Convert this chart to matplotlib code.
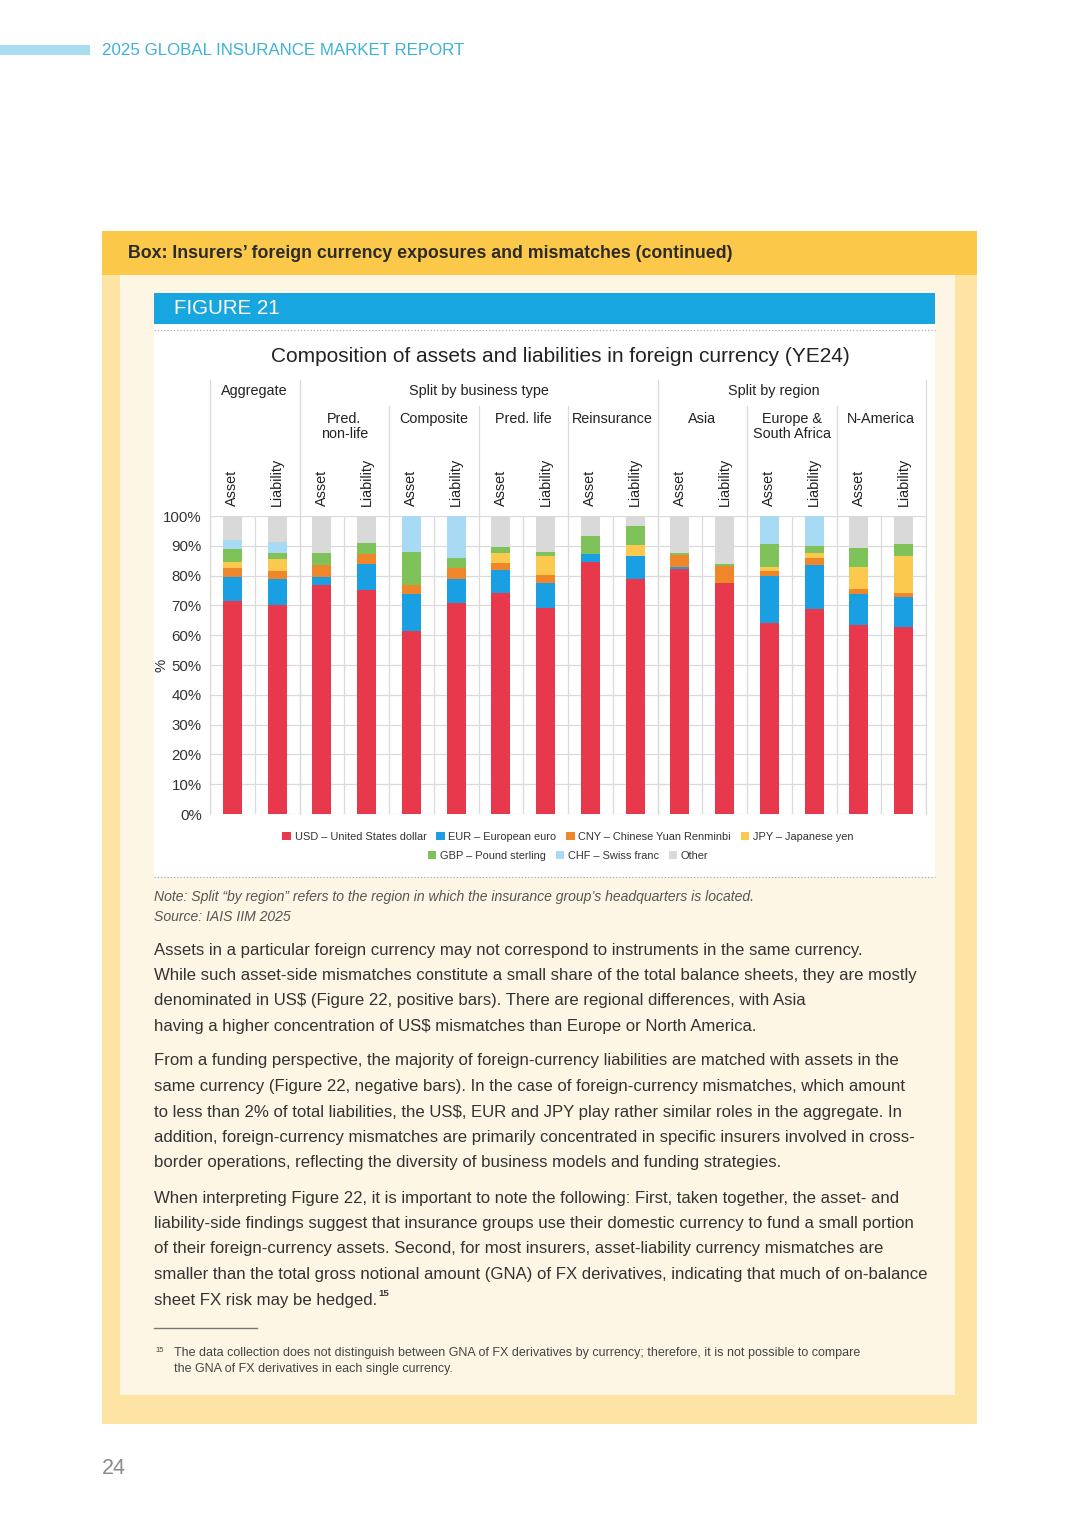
import matplotlib
matplotlib.use('Agg')
import matplotlib.pyplot as plt
from matplotlib.patches import Rectangle
from matplotlib.lines import Line2D
import matplotlib.transforms as mtransforms
import numpy as np

plt.rcParams['font.family'] = ['Liberation Sans', 'DejaVu Sans']

# ---------------- data ----------------
bar_labels = ['Asset', 'Liability'] * 8
top_groups = ['Aggregate', 'Split by business type', 'Split by region']
sub_groups = ['Pred.\nnon-life', 'Composite', 'Pred. life', 'Reinsurance',
              'Asia', 'Europe &\nSouth Africa', 'N-America']
series_names = ['USD – United States dollar', 'EUR – European euro',
                'CNY – Chinese Yuan Renminbi', 'JPY – Japanese yen',
                'GBP – Pound sterling', 'CHF – Swiss franc', 'Other']
usd   = [71.6, 70.1, 76.7, 75.2, 61.4, 70.7, 74.3, 69.2, 84.4, 78.9, 82.2, 77.4, 64.0, 68.7, 63.4, 62.6]
eur   = [8.0, 8.7, 2.7, 8.7, 12.4, 8.2, 7.6, 8.2, 3.0, 7.7, 0.6, 0.0, 15.9, 14.9, 10.4, 10.3]
cny   = [2.8, 2.8, 4.2, 3.5, 3.0, 3.5, 2.4, 2.8, 0.0, 0.0, 4.1, 5.8, 1.7, 2.2, 1.7, 1.4]
jpy   = [2.3, 4.0, 0.0, 0.0, 0.0, 0.0, 3.4, 6.4, 0.0, 3.7, 0.0, 0.0, 1.4, 1.8, 7.3, 12.4]
gbp   = [4.1, 2.1, 4.1, 3.4, 11.0, 3.4, 2.0, 1.2, 6.0, 6.3, 0.7, 0.7, 7.5, 2.3, 6.4, 3.9]
chf   = [3.1, 3.5, 0.0, 0.0, 12.2, 14.2, 0.0, 0.0, 0.0, 0.0, 0.0, 0.0, 9.5, 10.1, 0.0, 0.0]
other = [8.1, 8.8, 12.3, 9.2, 0.0, 0.0, 10.3, 12.2, 6.6, 3.4, 12.4, 16.1, 0.0, 0.0, 10.8, 9.4]
y_ticks = [0, 10, 20, 30, 40, 50, 60, 70, 80, 90, 100]

series = [usd, eur, cny, jpy, gbp, chf, other]
colors = ['#E8394C', '#1AA0E2', '#F0862A', '#FBC94E', '#80C25A', '#A8DBF3', '#D9D9D9']

# ---------------- page ----------------
W, H = 1080, 1527
fig = plt.figure(figsize=(W / 100, H / 100), dpi=100)
fig.patch.set_facecolor('white')
bg = fig.add_axes([0, 0, 1, 1], zorder=0)
bg.set_xlim(0, W)
bg.set_ylim(H, 0)
bg.axis('off')

bg.add_patch(Rectangle((0, 45), 90, 10, color='#A8DCF0', lw=0))
bg.text(102, 50.5, '2025 GLOBAL INSURANCE MARKET REPORT', color='#3DB1D8',
        fontsize=12.2, va='center', ha='left')

bg.add_patch(Rectangle((102, 231), 875, 1193, color='#FDE3A4', lw=0))
bg.add_patch(Rectangle((102, 231), 875, 44, color='#FBC84A', lw=0))
bg.add_patch(Rectangle((120, 275), 835, 1120, color='#FEF6E4', lw=0))
bg.text(128, 253, 'Box: Insurers\u2019 foreign currency exposures and mismatches (continued)',
        fontsize=12.8, fontweight='bold', color='#2b2b2b', va='center', ha='left')

bg.add_patch(Rectangle((154, 293), 781, 584, color='white', lw=0))
bg.add_patch(Rectangle((154, 293), 781, 31, color='#18A6E0', lw=0))
bg.text(174, 309, 'FIGURE 21', color='white', fontsize=14.8, va='center', ha='left')
for yy in (330, 877):
    bg.add_line(Line2D([154, 935], [yy, yy], color='#9DB3C4', lw=0.9,
                       linestyle=(0, (1, 1.6))))

bg.text(560, 356, 'Composition of assets and liabilities in foreign currency (YE24)',
        fontsize=15, color='#222222', ha='center', va='center')

bg.text(154, 897, 'Note: Split \u201cby region\u201d refers to the region in which the insurance group\u2019s headquarters is located.',
        fontsize=10.1, style='italic', color='#555555', va='center', ha='left')
bg.text(154, 917, 'Source: IAIS IIM 2025', fontsize=10.1, style='italic',
        color='#555555', va='center', ha='left')

paragraphs = [
    (950, ['Assets in a particular foreign currency may not correspond to instruments in the same currency.',
           'While such asset-side mismatches constitute a small share of the total balance sheets, they are mostly',
           'denominated in US$ (Figure 22, positive bars). There are regional differences, with Asia',
           'having a higher concentration of US$ mismatches than Europe or North America.']),
    (1061, ['From a funding perspective, the majority of foreign-currency liabilities are matched with assets in the',
            'same currency (Figure 22, negative bars). In the case of foreign-currency mismatches, which amount',
            'to less than 2% of total liabilities, the US$, EUR and JPY play rather similar roles in the aggregate. In',
            'addition, foreign-currency mismatches are primarily concentrated in specific insurers involved in cross-',
            'border operations, reflecting the diversity of business models and funding strategies.']),
    (1198, ['When interpreting Figure 22, it is important to note the following: First, taken together, the asset- and',
            'liability-side findings suggest that insurance groups use their domestic currency to fund a small portion',
            'of their foreign-currency assets. Second, for most insurers, asset-liability currency mismatches are',
            'smaller than the total gross notional amount (GNA) of FX derivatives, indicating that much of on-balance',
            'sheet FX risk may be hedged.']),
]
last_text = None
for y0, lines in paragraphs:
    for k, ln in enumerate(lines):
        last_text = bg.text(154, y0 + k * 25.5, ln, fontsize=12.1, color='#333333',
                            va='center', ha='left')

fig.canvas.draw()
bb = last_text.get_window_extent(renderer=fig.canvas.get_renderer())
x_end = bg.transData.inverted().transform((bb.x1, bb.y1))[0]
bg.text(x_end + 1.0, 1294, '15', fontsize=6.8, fontweight='bold', color='#333333',
        va='center', ha='left')

bg.add_line(Line2D([154, 257], [1328, 1328], color='#777777', lw=1.0))
bg.text(155, 1351, '15', fontsize=5.5, color='#444444', va='center', ha='left')
bg.text(174, 1353, 'The data collection does not distinguish between GNA of FX derivatives by currency; therefore, it is not possible to compare',
        fontsize=9.0, color='#444444', va='center', ha='left')
bg.text(174, 1369, 'the GNA of FX derivatives in each single currency.',
        fontsize=9.0, color='#444444', va='center', ha='left')

bg.text(102, 1468, '24', fontsize=15.5, color='#8a8a8a', va='center', ha='left')

# ---------------- chart ----------------
ax = fig.add_axes([210 / W, 1 - 814 / H, 716 / W, 298 / H], zorder=2)
ax.patch.set_visible(False)
x = np.arange(len(bar_labels))
bottom = np.zeros(len(x))
handles = []
for vals, col, name in zip(series, colors, series_names):
    b = ax.bar(x, vals, width=0.42, bottom=bottom, color=col, label=name,
               zorder=3, linewidth=0)
    handles.append(b)
    bottom = bottom + np.array(vals)

ax.set_xlim(-0.5, len(x) - 0.5)
ax.set_ylim(0, 100)
ax.set_yticks(y_ticks)
ax.set_yticklabels([f'{v}%' for v in y_ticks])
ax.set_xticks([])
ax.set_xticks(np.arange(-0.5, len(x), 1), minor=True)
ax.tick_params(which='both', length=0)
ax.tick_params(axis='y', pad=6, labelsize=10.8, labelcolor='#333333')
ax.grid(axis='y', which='major', color='#DADADA', lw=0.9, zorder=0)
ax.grid(axis='x', which='minor', color='#DADADA', lw=0.9, zorder=0)
ax.set_axisbelow(True)
for s in ax.spines.values():
    s.set_visible(False)
ax.set_ylabel('%', fontsize=10.8, color='#333333')
ax.yaxis.set_label_coords((168 - 210) / 716, 0.5)

trans = mtransforms.blended_transform_factory(ax.transData, ax.transAxes)
for i, lab in enumerate(bar_labels):
    ax.text(i, 1.034, lab, rotation=90, ha='center', va='bottom', fontsize=10.4,
            color='#222222', transform=trans, clip_on=False)
for j, lab in enumerate(sub_groups):
    ax.text(2.5 + 2 * j, 1.349, lab, ha='center', va='top', fontsize=10.4,
            color='#222222', transform=trans, clip_on=False, linespacing=1.05)
for xpos, lab in zip([0.5, 5.5, 12.1], top_groups):
    ax.text(xpos, 1.4195, lab, ha='center', va='center', fontsize=10.4,
            color='#222222', transform=trans, clip_on=False)
for xs in [-0.5, 1.5, 9.5, 15.5]:
    ax.add_line(Line2D([xs, xs], [0, 1.456], transform=trans, color='#DADADA',
                       lw=0.9, clip_on=False))
for xs in [3.5, 5.5, 7.5, 11.5, 13.5]:
    ax.add_line(Line2D([xs, xs], [1.0, 1.369], transform=trans, color='#DADADA',
                       lw=0.9, clip_on=False))

leg_kw = dict(frameon=False, fontsize=7.9, handlelength=0.75, handleheight=0.75,
              handletextpad=0.35, columnspacing=0.9, borderaxespad=0, borderpad=0,
              labelcolor='#333333')
leg1 = ax.legend(handles[:4], series_names[:4], loc='center',
                 bbox_to_anchor=(0.5, -0.077), ncol=4, **leg_kw)
ax.add_artist(leg1)
ax.legend(handles[4:], series_names[4:], loc='center',
          bbox_to_anchor=(0.5, -0.141), ncol=3, **leg_kw)

fig.savefig('out.png', dpi=100, facecolor='white')
